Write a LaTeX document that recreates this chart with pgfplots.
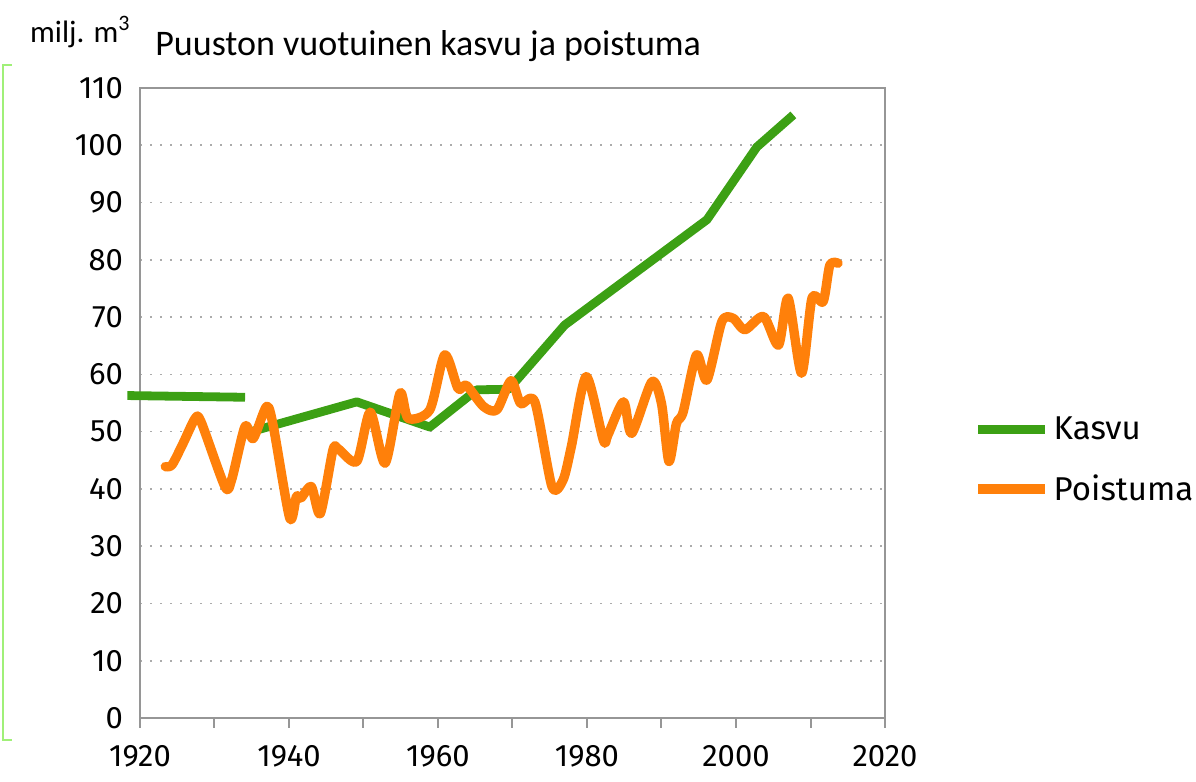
\documentclass[border=0pt]{standalone}
\usepackage{fontspec}
\setmainfont{Fira Sans}
\newfontfamily\calibri{Carlito}
\usepackage{pgfplots}
\pgfplotsset{compat=1.18}
\definecolor{kasvu}{RGB}{60,160,20}
\definecolor{poist}{RGB}{255,128,10}
\definecolor{axgray}{RGB}{150,150,150}
\definecolor{framegreen}{RGB}{160,240,120}
\begin{document}
\begin{tikzpicture}
\path[use as bounding box] (-70pt,-32pt) rectangle (528pt,359pt);
\draw[framegreen, line width=0.8pt] (-64pt,326.5pt) -- (-68.5pt,326.5pt) -- (-68.5pt,-11pt) -- (-64pt,-11pt);
\begin{axis}[
  at={(0,0)}, anchor=south west,
  scale only axis, width=372.5pt, height=315pt,
  xmin=1920, xmax=2020, ymin=0, ymax=110,
  clip=false,
  xtick={1920,1940,...,2020},
  minor xtick={1930,1950,...,2010},
  xtick pos=lower,
  ytick={0,10,...,110},
  ytick style={draw=none},
  tick align=outside,
  major tick length=5pt, minor tick length=5pt,
  every tick/.style={axgray, line width=1pt},
  axis line style={axgray, line width=1pt},
  ymajorgrids,
  grid style={axgray!80, line width=0.8pt, dash pattern=on 0.8pt off 4.2pt},
  /pgf/number format/assume math mode=true,
  /pgf/number format/1000 sep={},
  tick label style={font=\fontsize{15.5}{18}\selectfont},
  xticklabel style={yshift=-5pt},
  unbounded coords=jump,
  title={Puuston vuotuinen kasvu ja poistuma},
  title style={at={(0.0201,1.0333)}, anchor=base west, inner sep=0pt, font=\calibri\fontsize{18}{21}\selectfont},
  legend style={at={(1.118,0.4095)}, anchor=west, draw=none, fill=none, inner sep=0pt,
     font=\fontsize{16.5}{19}\selectfont, row sep=12pt},
  legend cell align=left,
  legend image code/.code={\draw[#1, line cap=butt] (0pt,0pt) -- (33.5pt,0pt);},
]
\addplot[kasvu, line width=4.4pt, line join=round] coordinates {
 (1918.3,56.3) (1934.1,56.0) (1934.6,nan)
 (1935.2,50.1) (1949.1,55.2) (1958.9,50.8) (1965.2,57.3) (1969.5,57.4)
 (1977.0,68.6) (1996.1,87.0) (2002.8,99.7) (2007.7,105.3)
};
\addlegendentry{Kasvu}
\addplot[poist, line width=4.7pt, line join=round, line cap=round, smooth, tension=0.45] coordinates {
 (1923.4,43.9) (1924.3,44.2) (1925.8,48.0) (1927.4,52.3) (1928.2,51.7)
 (1931.4,40.4) (1932.3,41.6) (1934.1,50.9) (1935.2,48.8) (1937.0,54.4)
 (1937.9,50.9) (1940.1,34.9) (1941.0,38.7) (1941.6,38.4) (1943.0,40.4)
 (1944.2,35.7) (1945.9,46.8) (1946.6,47.0) (1949.1,44.8) (1950.9,53.4)
 (1952.9,44.5) (1954.9,56.7) (1956.0,52.3) (1958.9,53.8) (1960.9,63.4)
 (1962.7,57.5) (1963.8,58.1) (1966.1,54.4) (1967.9,53.8) (1969.8,58.9)
 (1971.1,54.9) (1973.0,55.2) (1975.3,40.4) (1976.8,41.6) (1977.9,47.4)
 (1979.9,59.6) (1982.2,48.5) (1982.8,49.4) (1984.9,55.2) (1986.0,49.7)
 (1988.7,58.7) (1990.0,54.9) (1991.0,44.8) (1992.0,51.4) (1992.9,53.4)
 (1994.7,63.4) (1996.1,59.0) (1998.1,69.2) (1999.6,69.8) (2001.2,67.8)
 (2003.7,70.1) (2005.7,65.1) (2007.0,73.3) (2008.8,60.2) (2010.2,73.3)
 (2011.7,72.7) (2012.6,79.1) (2013.7,79.4)
};
\addlegendentry{Poistuma}
\node[anchor=base west, inner sep=0pt, font=\calibri\fontsize{15.5}{18}\selectfont] at (rel axis cs:-0.148,1.073) {milj. m\raisebox{0.38em}{\fontsize{11}{12}\selectfont 3}};
\end{axis}
\end{tikzpicture}
\end{document}
